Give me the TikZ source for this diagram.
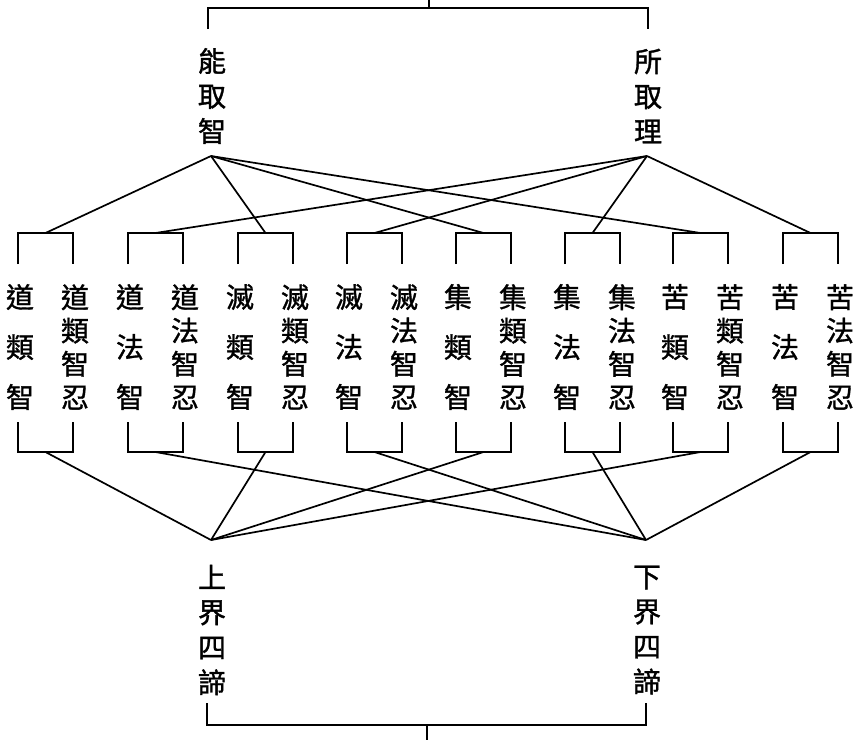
\documentclass[tikz,border=0pt]{standalone}
\usepackage{fontspec}
\usepackage{tikz}
\newfontfamily\cjk[AutoFakeBold=1.2]{Noto Sans CJK TC}

\begin{document}
\begin{tikzpicture}[x=1pt, y=-1pt, line width=1.7pt,
  lbl/.style={font=\cjk\bfseries\fontsize{28}{35}\selectfont, align=center, inner sep=0pt},
  shortcol/.style={font=\cjk\bfseries\fontsize{28}{50}\selectfont, align=center, inner sep=0pt},
  longcol/.style={font=\cjk\bfseries\fontsize{28}{33.3}\selectfont, align=center, inner sep=0pt}]
  \useasboundingbox (0,0) rectangle (858,740);
  % top: the two roots and their bracket
  \draw (208,29) -- (208,8) -- (648,8) -- (648,29);
  \draw (429,0) -- (429,8);
  \node[lbl] (neng) at (212,96) {能\\取\\智};
  \node[lbl] (suo) at (648,96) {所\\取\\理};
  \coordinate (nengtip) at (211,156);
  \coordinate (suotip) at (647,156);
  % the eight pairs: brackets above and below
  \foreach \x [count=\i] in {18,128,238,347,456,565,673,783} {
    \draw (\x,264) -- (\x,233) -- (\x+55,233) -- (\x+55,264);
    \draw (\x,422) -- (\x,452) -- (\x+55,452) -- (\x+55,422);
    \coordinate (t\i) at (\x+27.5,233);
    \coordinate (b\i) at (\x+27.5,452);
  }
  % columns of text
  \node[shortcol] (z1) at (20,347) {道\\類\\智};
  \node[longcol]  (r1) at (75,347) {道\\類\\智\\忍};
  \node[shortcol] (z2) at (130,347) {道\\法\\智};
  \node[longcol]  (r2) at (185,347) {道\\法\\智\\忍};
  \node[shortcol] (z3) at (240,347) {滅\\類\\智};
  \node[longcol]  (r3) at (295,347) {滅\\類\\智\\忍};
  \node[shortcol] (z4) at (349,347) {滅\\法\\智};
  \node[longcol]  (r4) at (404,347) {滅\\法\\智\\忍};
  \node[shortcol] (z5) at (458,347) {集\\類\\智};
  \node[longcol]  (r5) at (513,347) {集\\類\\智\\忍};
  \node[shortcol] (z6) at (567,347) {集\\法\\智};
  \node[longcol]  (r6) at (622,347) {集\\法\\智\\忍};
  \node[shortcol] (z7) at (675,347) {苦\\類\\智};
  \node[longcol]  (r7) at (730,347) {苦\\類\\智\\忍};
  \node[shortcol] (z8) at (785,347) {苦\\法\\智};
  \node[longcol]  (r8) at (840,347) {苦\\法\\智\\忍};
  % top connectors
  \draw (nengtip) -- (t1);
  \draw (nengtip) -- (t3);
  \draw (nengtip) -- (t5);
  \draw (nengtip) -- (t7);
  \draw (suotip) -- (t2);
  \draw (suotip) -- (t4);
  \draw (suotip) -- (t6);
  \draw (suotip) -- (t8);
  % bottom: upper and lower realms
  \node[lbl] (shang) at (212,630) {上\\界\\四\\諦};
  \node[lbl] (xia) at (647,630) {下\\界\\四\\諦};
  \coordinate (shangtip) at (211,540);
  \coordinate (xiatip) at (646,540);
  \draw (b1) -- (shangtip);
  \draw (b3) -- (shangtip);
  \draw (b5) -- (shangtip);
  \draw (b7) -- (shangtip);
  \draw (b2) -- (xiatip);
  \draw (b4) -- (xiatip);
  \draw (b6) -- (xiatip);
  \draw (b8) -- (xiatip);
  \draw (207,703) -- (207,725) -- (646,725) -- (646,703);
  \draw (427,725) -- (427,740);
\end{tikzpicture}
\end{document}
